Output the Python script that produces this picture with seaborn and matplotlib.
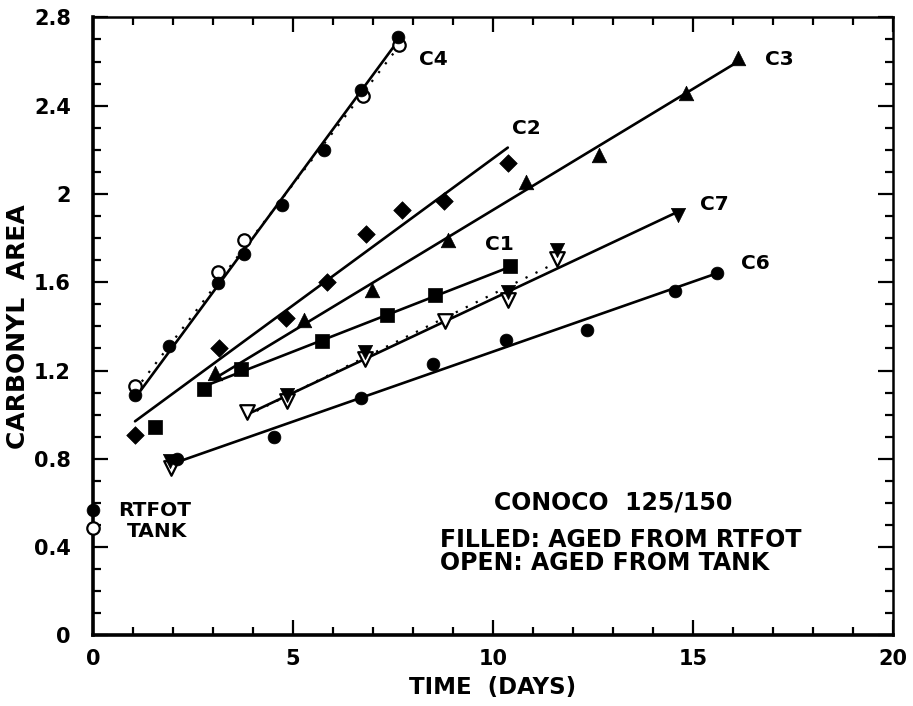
import matplotlib
matplotlib.use("Agg")
import matplotlib.pyplot as plt
from matplotlib.ticker import MultipleLocator, FixedLocator, FixedFormatter
import seaborn as sns
import pandas as pd

# ---- measured carbonyl areas (days of aging vs. area) ----
c4_days_rtfot = [1.05, 1.9, 3.12, 3.78, 4.73, 5.78, 6.7, 7.63]
c4_area_rtfot = [1.09, 1.31, 1.595, 1.73, 1.95, 2.2, 2.47, 2.71]
c4_days_tank = [1.05, 3.12, 3.78, 6.74, 7.65]
c4_area_tank = [1.13, 1.645, 1.79, 2.445, 2.675]

c2_days = [1.05, 3.16, 4.82, 5.84, 6.82, 7.72, 8.78, 10.37]
c2_area = [0.908, 1.30, 1.44, 1.60, 1.817, 1.926, 1.968, 2.139]

c3_days = [3.06, 5.28, 6.97, 8.88, 10.82, 12.65, 14.82, 16.13]
c3_area = [1.187, 1.43, 1.563, 1.79, 2.056, 2.177, 2.459, 2.615]

c1_days = [1.55, 2.77, 3.71, 5.73, 7.34, 8.55, 10.43]
c1_area = [0.946, 1.118, 1.206, 1.333, 1.452, 1.542, 1.674]

c7_days_rtfot = [1.92, 4.84, 6.8, 10.38, 11.6, 14.63]
c7_area_rtfot = [0.79, 1.09, 1.286, 1.557, 1.746, 1.905]
c7_days_tank = [1.94, 3.84, 4.84, 6.8, 8.8, 10.38, 11.6]
c7_area_tank = [0.76, 1.014, 1.06, 1.252, 1.425, 1.52, 1.706]

c6_days = [2.1, 4.53, 6.69, 8.49, 10.33, 12.36, 14.55, 15.59]
c6_area = [0.797, 0.897, 1.076, 1.228, 1.338, 1.384, 1.562, 1.644]

# unaged starting material
start_rtfot = 0.566
start_tank = 0.486

# fitted trend lines: (day range, area range)
fit_c4 = ([1.05, 7.65], [1.075, 2.70])
fit_c4_tank = ([1.05, 7.65], [1.11, 2.67])
fit_c2 = ([1.05, 10.37], [0.97, 2.21])
fit_c3 = ([3.05, 16.13], [1.165, 2.60])
fit_c1 = ([2.8, 10.43], [1.13, 1.67])
fit_c7 = ([3.84, 14.63], [1.0, 1.92])
fit_c7_tank = ([3.84, 11.6], [0.995, 1.69])
fit_c6 = ([2.1, 15.59], [0.785, 1.64])

y_ticks = [0, 0.4, 0.8, 1.2, 1.6, 2.0, 2.4, 2.8]
y_tick_labels = ["0", "0.4", "0.8", "1.2", "1.6", "2", "2.4", "2.8"]
x_ticks = [0, 5, 10, 15, 20]
x_tick_labels = ["0", "5", "10", "15", "20"]

sns.set_theme(style="ticks")
plt.rcParams["font.family"] = ["DejaVu Sans"]
plt.rcParams["font.weight"] = "bold"
plt.rcParams["text.color"] = "black"
plt.rcParams["axes.labelcolor"] = "black"
plt.rcParams["xtick.color"] = "black"
plt.rcParams["ytick.color"] = "black"

fig = plt.figure(figsize=(9.13, 7.06), dpi=100)
ax = fig.add_axes([0.1019, 0.1, 0.8762, 0.8754])

LW = 1.9
# trend lines
for xs, ys in [fit_c4, fit_c2, fit_c3, fit_c1, fit_c7, fit_c6]:
    sns.lineplot(x=xs, y=ys, ax=ax, color="black", linewidth=LW, sort=False)
for xs, ys in [fit_c4_tank, fit_c7_tank]:
    sns.lineplot(x=xs, y=ys, ax=ax, color="black", linewidth=1.6,
                 linestyle=(0, (1, 4)), sort=False)


def pts(days, area, marker, size, filled=True, clip=True):
    df = pd.DataFrame({"day": days, "area": area})
    sns.scatterplot(data=df, x="day", y="area", ax=ax, marker=marker, s=size,
                    color="black" if filled else "white",
                    edgecolor="black", linewidth=1.6 if not filled else 0.5,
                    zorder=4, clip_on=clip)


pts(c4_days_tank, c4_area_tank, "o", 80, filled=False)
pts(c4_days_rtfot, c4_area_rtfot, "o", 85)
pts(c2_days, c2_area, "D", 80)
pts(c3_days, c3_area, "^", 110)
pts(c1_days, c1_area, "s", 105)
pts(c7_days_tank, c7_area_tank, "v", 110, filled=False)
pts(c7_days_rtfot, c7_area_rtfot, "v", 105)
pts(c6_days, c6_area, "o", 85)
pts([0], [start_tank], "o", 80, filled=False, clip=False)
pts([0], [start_rtfot], "o", 85, clip=False)

# series labels
lbl = dict(fontsize=14.5, fontweight="bold", va="center", ha="left")
ax.text(8.15, 2.61, "C4", **lbl)
ax.text(16.8, 2.61, "C3", **lbl)
ax.text(10.47, 2.295, "C2", **lbl)
ax.text(15.18, 1.95, "C7", **lbl)
ax.text(9.8, 1.77, "C1", **lbl)
ax.text(16.2, 1.685, "C6", **lbl)
ax.text(0.62, 0.567, "RTFOT", **lbl)
ax.text(0.84, 0.472, "TANK", **lbl)

note = dict(fontsize=17, fontweight="bold", va="center", ha="left")
ax.text(10.03, 0.60, "CONOCO  125/150", **note)
ax.text(8.68, 0.433, "FILLED: AGED FROM RTFOT", **note)
ax.text(8.68, 0.328, "OPEN: AGED FROM TANK", **note)

ax.set_xlim(0, 20)
ax.set_ylim(0, 2.8)
ax.xaxis.set_major_locator(FixedLocator(x_ticks))
ax.xaxis.set_major_formatter(FixedFormatter(x_tick_labels))
ax.xaxis.set_minor_locator(MultipleLocator(1))
ax.yaxis.set_major_locator(FixedLocator(y_ticks))
ax.yaxis.set_major_formatter(FixedFormatter(y_tick_labels))
ax.yaxis.set_minor_locator(MultipleLocator(0.1))

ax.tick_params(which="both", direction="in", top=True, right=True,
               color="black", width=1.6)
ax.tick_params(which="major", length=11)
ax.tick_params(which="minor", length=6)
ax.tick_params(axis="y", which="major", pad=16, labelsize=15)
ax.tick_params(axis="x", which="major", pad=10, labelsize=15)
for lab in ax.get_xticklabels() + ax.get_yticklabels():
    lab.set_fontweight("bold")

for side, sp in ax.spines.items():
    sp.set_visible(True)
    sp.set_color("black")
    sp.set_linewidth(2.6 if side in ("left", "bottom") else 1.8)

ax.set_xlabel("TIME  (DAYS)", fontsize=16.5, fontweight="bold", labelpad=5)
ax.set_ylabel("CARBONYL  AREA", fontsize=18, fontweight="bold", labelpad=3)

fig.savefig("out.png", dpi=100)
